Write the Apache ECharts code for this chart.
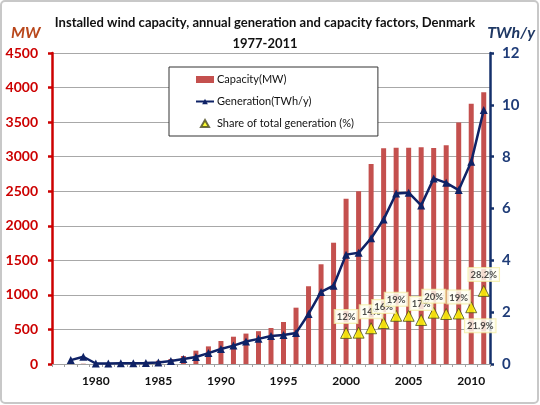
<!DOCTYPE html>
<html><head><meta charset="utf-8">
<script src="https://cdn.jsdelivr.net/npm/echarts@6/dist/echarts.min.js"></script>
<style>html,body{margin:0;padding:0;background:#fff}#c{width:540px;height:405px}</style>
</head><body><div id="c"></div>
<script>
const years = [];
for (let y = 1977; y <= 2011; y++) years.push(String(y));
const capacityMW = [null, 3, 4, 5, 7, 12, 20, 30, 47, 72, 116, 193, 255, 333, 395, 440, 475, 521, 608, 815,
  1125, 1443, 1755, 2392, 2500, 2894, 3120, 3128, 3130, 3138, 3126, 3166, 3495, 3765, 3932];
const generationTWh = [null, 0.15, 0.28, 0.02, 0.02, 0.03, 0.03, 0.04, 0.06, 0.12, 0.19, 0.27, 0.42, 0.58, 0.71, 0.87, 0.97, 1.08, 1.12, 1.2,
  1.93, 2.78, 3.02, 4.22, 4.29, 4.85, 5.58, 6.58, 6.61, 6.12, 7.16, 6.99, 6.71, 7.8, 9.8];
const sharePct = [null, null, null, null, null, null, null, null, null, null, null, null, null, null, null, null, null, null, null, null,
  null, null, null, 12.0, 12.1, 13.8, 15.8, 18.6, 18.6, 17.0, 19.8, 19.3, 19.5, 21.9, 28.2];
const shareLabels = {2000: '12%', 2002: '14%', 2003: '16%', 2004: '19%', 2006: '17%', 2007: '20%', 2009: '19%', 2010: '21.9%', 2011: '28.2%'};
const leftTicks = [0, 500, 1000, 1500, 2000, 2500, 3000, 3500, 4000, 4500];
const rightTicks = [0, 2, 4, 6, 8, 10, 12];

const FONT = "Lato, 'Open Sans', sans-serif";
const labelStyle = {
  show: true, position: 'top', distance: 4, fontSize: 9.5, fontWeight: 'bold', color: '#222',
  backgroundColor: '#fffff2', borderColor: '#f2eca0', borderWidth: 1, padding: [2, 2, 1, 2], fontFamily: FONT
};
const shareData = sharePct.map((v, i) => {
  const yr = years[i];
  const item = { value: v };
  if (shareLabels[yr]) {
    item.label = Object.assign({}, labelStyle, { formatter: shareLabels[yr] });
    if (yr === '2010') { item.label.position = 'bottom'; item.label.offset = [9, 2]; }
  } else {
    item.label = { show: false };
  }
  return item;
});

const chart = echarts.init(document.getElementById('c'), null, { renderer: 'canvas' });
chart.setOption({
  animation: false,
  textStyle: { fontFamily: FONT },
  title: {
    text: 'Installed wind capacity, annual generation and capacity factors, Denmark\n1977-2011',
    left: 260, textAlign: 'center', top: 7,
    textStyle: { fontSize: 13, fontWeight: 'bold', color: '#111', lineHeight: 21, fontFamily: FONT }
  },
  graphic: [
    { type: 'rect', shape: { x: 1, y: 1, width: 537, height: 402, r: 4 }, style: { fill: 'none', stroke: '#c8c8c8', lineWidth: 2 }, silent: true },
    { type: 'text', left: 11, top: 25, style: { text: 'MW', font: "italic bold 16px " + FONT, fill: '#b9471b' } },
    { type: 'text', right: 5, top: 25, style: { text: 'TWh/y', font: "italic bold 16px " + FONT, fill: '#1f3864' } }
  ],
  legend: {
    orient: 'vertical', left: 169, top: 67,
    padding: [7, 24, 7, 26], itemGap: 11,
    borderColor: '#333', borderWidth: 1, backgroundColor: '#fff',
    itemWidth: 18, itemHeight: 7,
    textStyle: { fontSize: 11, color: '#111', fontFamily: FONT, padding: [0, 0, 0, -2] },
    data: [
      { name: 'Capacity(MW)', icon: 'rect' },
      { name: 'Generation(TWh/y)' },
      { name: 'Share of total generation (%)', icon: 'path://M4,0L8,7L0,7Z' }
    ]
  },
  grid: { left: 52, right: 50, top: 53, bottom: 41 },
  xAxis: {
    type: 'category', data: years, boundaryGap: true,
    axisLine: { lineStyle: { color: '#a0a0a0', width: 1 } },
    axisTick: { show: true, interval: 0, length: 3, lineStyle: { color: '#a0a0a0' } },
    axisLabel: {
      interval: 0, margin: 11, fontSize: 12, fontWeight: 'bold', color: '#111', fontFamily: FONT,
      formatter: v => (Number(v) % 5 === 0 ? v : '')
    }
  },
  yAxis: [
    {
      type: 'value', min: leftTicks[0], max: leftTicks[leftTicks.length - 1], interval: 500,
      axisLine: { show: true, lineStyle: { color: '#cc0000', width: 2.5 } },
      axisTick: { show: true, length: 4, lineStyle: { color: '#cc0000', width: 2.5 } },
      axisLabel: { margin: 14, fontSize: 14, fontWeight: 'bold', color: '#cc0000', fontFamily: FONT, formatter: v => String(v) },
      splitLine: { lineStyle: { color: '#a8a8a8', width: 1.2 } }
    },
    {
      type: 'value', min: rightTicks[0], max: rightTicks[rightTicks.length - 1], interval: 2, position: 'right',
      axisLine: { show: true, lineStyle: { color: '#14306b', width: 2.5 } },
      axisTick: { show: true, length: 4, lineStyle: { color: '#14306b', width: 2.5 } },
      axisLabel: { margin: 12, fontSize: 15, fontWeight: 'bold', color: '#1f3c78', fontFamily: FONT, formatter: v => String(v) },
      splitLine: { show: false }
    },
    {
      type: 'value', min: 0, max: 120, show: false, splitLine: { show: false }
    }
  ],
  series: [
    {
      name: 'Capacity(MW)', type: 'bar', yAxisIndex: 0, data: capacityMW,
      barWidth: 5, itemStyle: { color: '#c4504e' }, z: 2
    },
    {
      name: 'Generation(TWh/y)', type: 'line', yAxisIndex: 1, data: generationTWh,
      symbol: 'triangle', symbolSize: 8, connectNulls: false,
      lineStyle: { color: '#0f2266', width: 2.5 }, itemStyle: { color: '#0f2266' }, z: 3
    },
    {
      name: 'Share of total generation (%)', type: 'scatter', yAxisIndex: 2, data: shareData,
      symbol: 'triangle', symbolSize: 11,
      itemStyle: { color: '#ffff00', borderColor: '#4a4a20', borderWidth: 1 }, z: 4
    }
  ]
});
</script></body></html>
